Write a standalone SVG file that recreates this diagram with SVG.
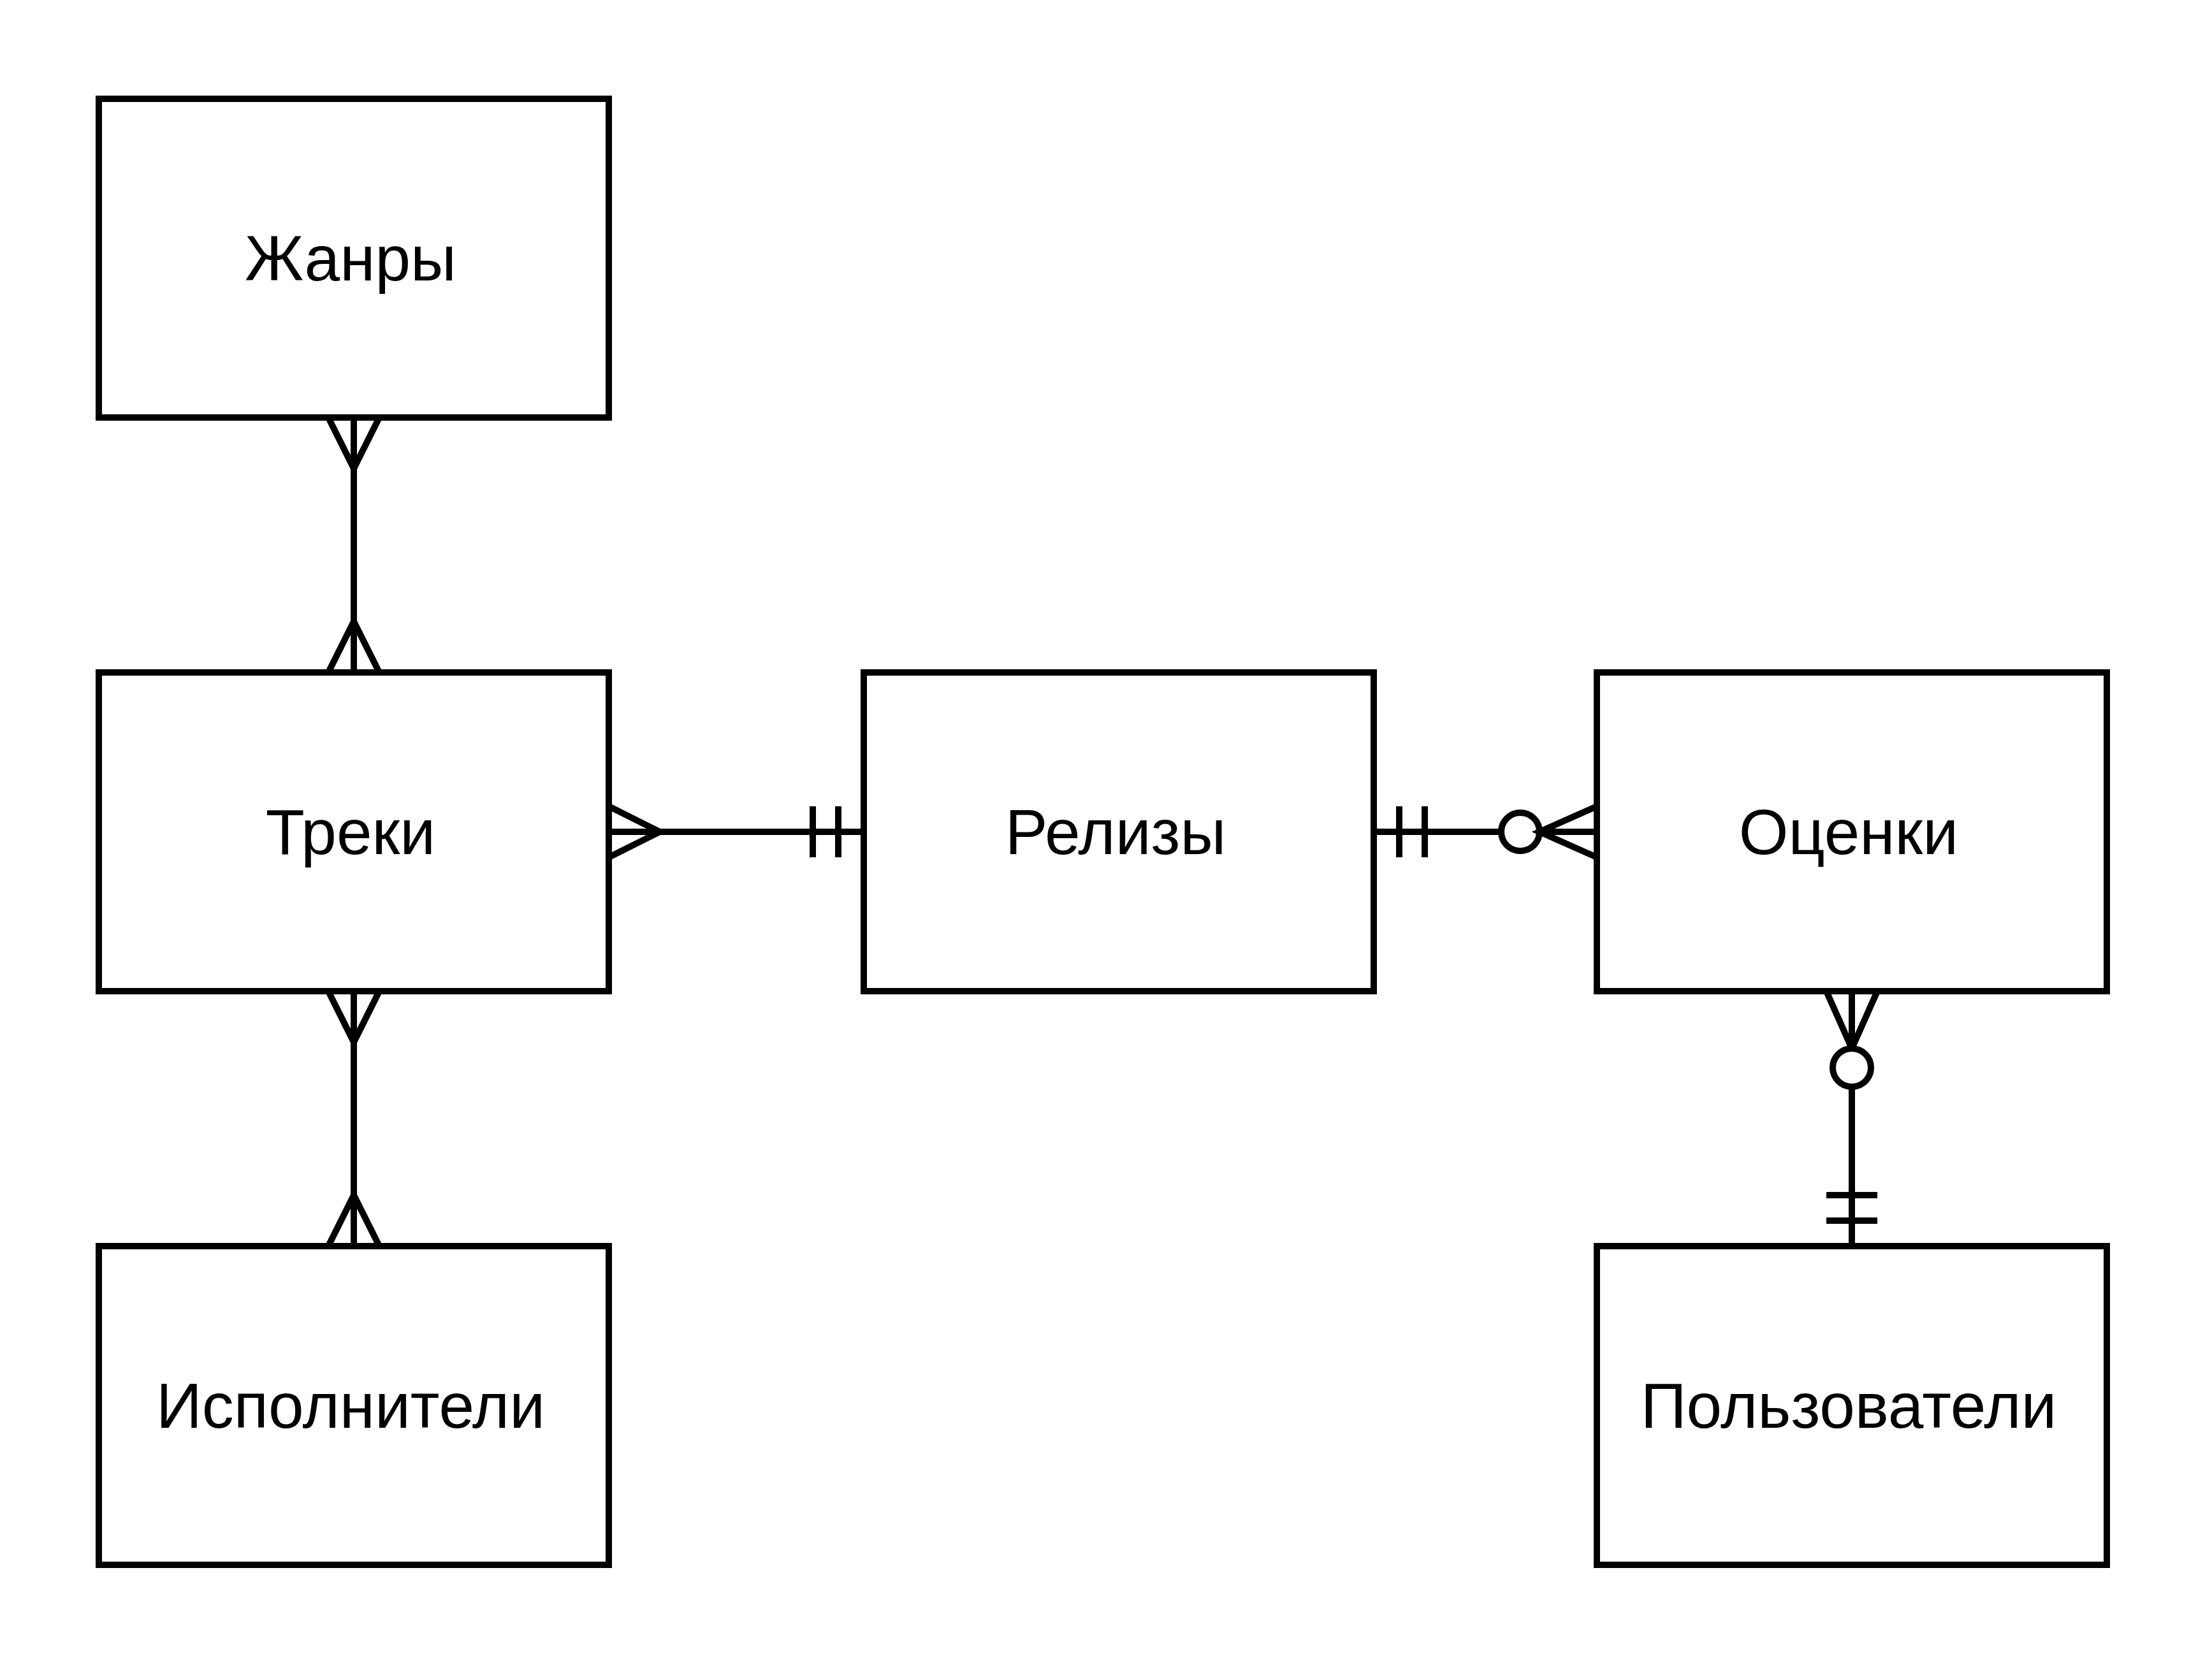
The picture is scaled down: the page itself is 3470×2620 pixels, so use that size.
<svg xmlns="http://www.w3.org/2000/svg" width="3470" height="2620" viewBox="0 0 3470 2620">
<style>
.box{fill:#ffffff;stroke:#000000;stroke-width:10}
.lbl{font-family:"Liberation Sans",Arial,sans-serif;font-size:100px;fill:#000000;text-anchor:middle}
.ln{fill:none;stroke:#000000;stroke-width:10}
.ring{fill:#ffffff;stroke:#000000;stroke-width:10}
</style>
<rect x="0" y="0" width="3470" height="2620" fill="#ffffff"/>
<g id="connectors">
  <g id="genres-tracks">
    <line class="ln" x1="555" y1="655" x2="555" y2="1055"/>
    <polyline class="ln" points="515,655 555,735 595,655"/>
    <polyline class="ln" points="515,1055 555,975 595,1055"/>
  </g>
  <g id="tracks-artists">
    <line class="ln" x1="555" y1="1555" x2="555" y2="1955"/>
    <polyline class="ln" points="515,1555 555,1635 595,1555"/>
    <polyline class="ln" points="515,1955 555,1875 595,1955"/>
  </g>
  <g id="tracks-releases">
    <line class="ln" x1="955" y1="1305" x2="1355" y2="1305"/>
    <polyline class="ln" points="955,1265 1035,1305 955,1345"/>
    <line class="ln" x1="1275" y1="1265" x2="1275" y2="1345"/>
    <line class="ln" x1="1315" y1="1265" x2="1315" y2="1345"/>
  </g>
  <g id="releases-ratings">
    <line class="ln" x1="2155" y1="1305" x2="2505" y2="1305"/>
    <line class="ln" x1="2195" y1="1265" x2="2195" y2="1345"/>
    <line class="ln" x1="2235" y1="1265" x2="2235" y2="1345"/>
    <circle class="ring" cx="2385" cy="1305" r="30"/>
    <polyline class="ln" points="2505,1265 2415,1305 2505,1345"/>
  </g>
  <g id="ratings-users">
    <line class="ln" x1="2905" y1="1555" x2="2905" y2="1955"/>
    <polyline class="ln" points="2865,1555 2905,1645 2945,1555"/>
    <circle class="ring" cx="2905" cy="1675" r="30"/>
    <line class="ln" x1="2865" y1="1875" x2="2945" y2="1875"/>
    <line class="ln" x1="2865" y1="1915" x2="2945" y2="1915"/>
  </g>
</g>
<g id="genres">
  <rect class="box" x="155" y="155" width="800" height="500"/>
  <text class="lbl" x="550" y="440">Жанры</text>
</g>
<g id="tracks">
  <rect class="box" x="155" y="1055" width="800" height="500"/>
  <text class="lbl" x="550" y="1340">Треки</text>
</g>
<g id="artists">
  <rect class="box" x="155" y="1955" width="800" height="500"/>
  <text class="lbl" x="550" y="2240">Исполнители</text>
</g>
<g id="releases">
  <rect class="box" x="1355" y="1055" width="800" height="500"/>
  <text class="lbl" x="1750" y="1340">Релизы</text>
</g>
<g id="ratings">
  <rect class="box" x="2505" y="1055" width="800" height="500"/>
  <text class="lbl" x="2900" y="1340">Оценки</text>
</g>
<g id="users">
  <rect class="box" x="2505" y="1955" width="800" height="500"/>
  <text class="lbl" x="2900" y="2240">Пользователи</text>
</g>
</svg>
